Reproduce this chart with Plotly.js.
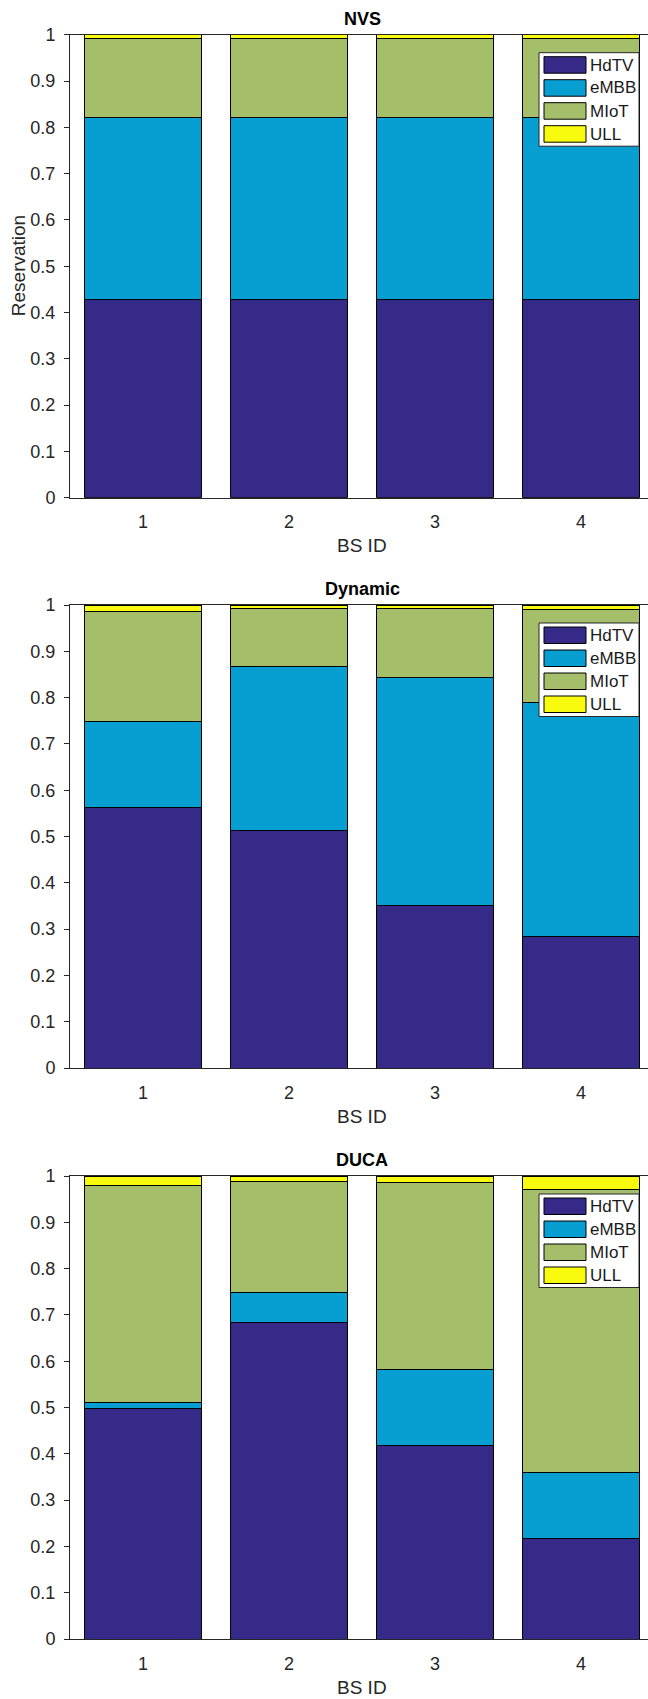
<!DOCTYPE html>
<html>
<head>
<meta charset="utf-8">
<script src="https://cdn.plot.ly/plotly-3.0.1.min.js"></script>
<style>
  html, body { margin: 0; padding: 0; overflow: hidden; background: #ffffff; }
</style>
</head>
<body>
<div id="chart"></div>
<script>
// Base stations and slice types
const bsIds = [1, 2, 3, 4];
const sliceNames = ['HdTV', 'eMBB', 'MIoT', 'ULL'];
const sliceColors = ['#352a87', '#079ed1', '#a5be6a', '#f9fb0e'];
const panelTitles = ['NVS', 'Dynamic', 'DUCA'];
const yTickVals = [0, 0.1, 0.2, 0.3, 0.4, 0.5, 0.6, 0.7, 0.8, 0.9, 1];
const yTickText = ['0', '0.1', '0.2', '0.3', '0.4', '0.5', '0.6', '0.7', '0.8', '0.9', '1'];
const xTickText = ['1', '2', '3', '4'];

// Reservation shares per BS, NVS scheme
const nvsHdTV = [0.427, 0.427, 0.427, 0.427];
const nvsEMBB = [0.395, 0.395, 0.395, 0.395];
const nvsMIoT = [0.170, 0.170, 0.170, 0.170];
const nvsULL  = [0.008, 0.008, 0.008, 0.008];

// Dynamic scheme
const dynHdTV = [0.563, 0.514, 0.350, 0.284];
const dynEMBB = [0.185, 0.353, 0.494, 0.505];
const dynMIoT = [0.239, 0.126, 0.149, 0.202];
const dynULL  = [0.013, 0.007, 0.007, 0.009];

// DUCA scheme
const ducaHdTV = [0.498, 0.684, 0.417, 0.217];
const ducaEMBB = [0.012, 0.064, 0.166, 0.143];
const ducaMIoT = [0.470, 0.241, 0.403, 0.610];
const ducaULL  = [0.020, 0.011, 0.014, 0.030];

const panels = [
  [nvsHdTV, nvsEMBB, nvsMIoT, nvsULL],
  [dynHdTV, dynEMBB, dynMIoT, dynULL],
  [ducaHdTV, ducaEMBB, ducaMIoT, ducaULL]
];

// Page geometry (pixels)
const W = 660, H = 1699;
const L = 70, PLOT_W = 584;
const AX_TOPS = [34.7, 605, 1176];
const AX_H = 463;
const FONT = 'Arial, "Liberation Sans", Helvetica, sans-serif';
const AXIS_GREY = '#262626';

const px2x = px => (px - L) / PLOT_W;
const px2y = py => 1 - py / H;

const traces = [];
const shapes = [];
const annotations = [];
const layout = {
  width: W,
  height: H,
  margin: { l: L, r: W - L - PLOT_W, t: 0, b: 0, pad: 0 },
  paper_bgcolor: '#ffffff',
  plot_bgcolor: '#ffffff',
  barmode: 'stack',
  bargap: 0.2,
  showlegend: false,
  font: { family: FONT, color: AXIS_GREY, size: 18 }
};

panels.forEach((series, p) => {
  const sfx = p === 0 ? '' : String(p + 1);
  const top = AX_TOPS[p];

  series.forEach((vals, s) => {
    traces.push({
      type: 'bar',
      x: bsIds,
      y: vals,
      name: sliceNames[s],
      xaxis: 'x' + sfx,
      yaxis: 'y' + sfx,
      width: 0.8,
      marker: { color: sliceColors[s], line: { color: '#000000', width: 1 } },
      hoverinfo: 'skip'
    });
  });

  layout['xaxis' + sfx] = {
    domain: [0, 1],
    anchor: 'y' + sfx,
    range: [0.5, 4.5],
    tickmode: 'array',
    tickvals: bsIds,
    ticktext: xTickText,
    ticks: '',
    ticklabelstandoff: 8,
    showgrid: false,
    zeroline: false,
    showline: true,
    mirror: true,
    linecolor: AXIS_GREY,
    linewidth: 1,
    tickfont: { family: FONT, size: 18, color: AXIS_GREY },
    fixedrange: true
  };
  layout['yaxis' + sfx] = {
    domain: [px2y(top + AX_H), px2y(top)],
    anchor: 'x' + sfx,
    range: [0, 1],
    tickmode: 'array',
    tickvals: yTickVals,
    ticktext: yTickText,
    ticks: 'outside',
    ticklen: 5,
    tickwidth: 1,
    tickcolor: AXIS_GREY,
    ticklabelstandoff: 5,
    showgrid: false,
    zeroline: false,
    showline: true,
    mirror: true,
    linecolor: AXIS_GREY,
    linewidth: 1,
    tickfont: { family: FONT, size: 18, color: AXIS_GREY },
    fixedrange: true
  };

  // Panel title
  annotations.push({
    text: '<b>' + panelTitles[p] + '</b>',
    xref: 'paper', yref: 'paper',
    x: 0.5, y: px2y(top - 16),
    xanchor: 'center', yanchor: 'middle',
    showarrow: false,
    font: { family: FONT, size: 18, color: '#000000' }
  });
  // X axis title
  annotations.push({
    text: 'BS ID',
    xref: 'paper', yref: 'paper',
    x: 0.5, y: px2y(top + AX_H + 48),
    xanchor: 'center', yanchor: 'middle',
    showarrow: false,
    font: { family: FONT, size: 19, color: AXIS_GREY }
  });

  // Legend box inside the upper-right corner of each panel
  shapes.push({
    type: 'rect', xref: 'paper', yref: 'paper', layer: 'above',
    x0: px2x(539), x1: px2x(639),
    y0: px2y(top + 111.5), y1: px2y(top + 18),
    fillcolor: '#ffffff',
    line: { color: AXIS_GREY, width: 1 }
  });
  sliceNames.forEach((name, s) => {
    const rowTop = top + 22 + 23 * s;
    shapes.push({
      type: 'rect', xref: 'paper', yref: 'paper', layer: 'above',
      x0: px2x(544), x1: px2x(586),
      y0: px2y(rowTop + 16.5), y1: px2y(rowTop),
      fillcolor: sliceColors[s],
      line: { color: '#000000', width: 1 }
    });
    annotations.push({
      text: name,
      xref: 'paper', yref: 'paper',
      x: px2x(588), y: px2y(rowTop + 8.3),
      xanchor: 'left', yanchor: 'middle',
      showarrow: false,
      font: { family: FONT, size: 17, color: '#1a1a1a' }
    });
  });
});

// Y axis title on the first panel only
annotations.push({
  text: 'Reservation',
  xref: 'paper', yref: 'paper',
  x: px2x(18), y: px2y(AX_TOPS[0] + AX_H / 2),
  xanchor: 'center', yanchor: 'middle',
  textangle: -90,
  showarrow: false,
  font: { family: FONT, size: 19, color: AXIS_GREY }
});

layout.shapes = shapes;
layout.annotations = annotations;

Plotly.newPlot('chart', traces, layout, { staticPlot: true, displayModeBar: false });
</script>
</body>
</html>
